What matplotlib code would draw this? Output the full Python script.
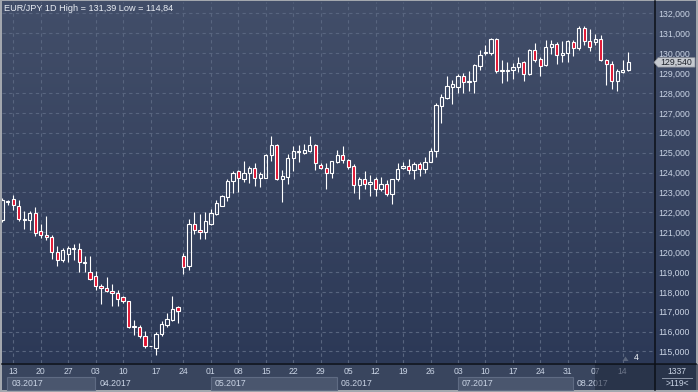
import numpy as np
import pandas as pd
import matplotlib.pyplot as plt
from matplotlib.colors import LinearSegmentedColormap
from matplotlib.lines import Line2D
from matplotlib.patches import Rectangle, Polygon
import matplotlib.transforms as mtransforms

plt.rcParams["font.family"] = ["Liberation Sans", "DejaVu Sans"]

# sessions on screen: weekdays plus the Sunday session before Easter Monday
dates = pd.bdate_range("2017-03-09", "2017-08-15").union(pd.DatetimeIndex(["2017-04-16"]))

opens = [121.63, 122.50, 122.69, 122.34, 121.61, 121.63, 121.97, 121.06, 120.86, 120.76,
         120.01, 119.60, 119.91, 120.16, 120.17, 119.45, 118.98, 118.80, 118.30, 118.20,
         118.06, 117.96, 117.73, 117.54, 116.22, 116.25, 115.77, 115.25, 115.15, 115.89,
         116.34, 116.59, 117.23, 119.78, 119.28, 121.40, 121.10, 121.00, 121.40, 121.90,
         122.34, 122.76, 123.58, 124.06, 123.69, 123.96, 124.21, 123.71, 123.74, 124.88,
         125.38, 123.66, 123.79, 124.71, 125.01, 125.00, 125.10, 125.38, 124.37, 124.22,
         123.97, 124.54, 124.87, 124.61, 124.34, 123.37, 123.67, 123.42, 123.67, 123.17,
         123.42, 122.91, 123.67, 124.24, 124.34, 124.14, 124.42, 124.17, 124.54, 125.08,
         127.37, 127.76, 128.32, 128.29, 128.86, 128.54, 128.58, 129.35, 129.99, 129.99,
         130.70, 129.13, 129.09, 129.15, 129.30, 129.55, 128.98, 130.16, 129.72, 129.43,
         130.33, 130.49, 129.90, 129.99, 130.58, 130.27, 131.29, 130.61, 130.58, 130.70,
         129.65, 129.47, 128.59, 129.06, 129.15]
highs = [122.72, 122.62, 122.89, 122.62, 122.05, 122.05, 122.25, 121.41, 121.83, 120.84,
         120.32, 120.22, 120.32, 120.41, 120.44, 119.82, 119.82, 119.07, 118.37, 118.77,
         118.40, 118.10, 117.80, 117.56, 116.56, 116.32, 116.02, 115.25, 116.00, 116.52,
         116.96, 117.81, 117.31, 119.96, 121.67, 122.00, 121.92, 122.00, 122.15, 122.62,
         122.87, 123.68, 124.08, 124.13, 124.58, 124.34, 124.48, 124.03, 124.91, 125.83,
         125.46, 124.13, 124.91, 125.33, 125.38, 125.43, 125.83, 125.46, 124.47, 124.47,
         124.59, 125.14, 125.34, 124.67, 124.44, 123.80, 124.09, 123.87, 123.80, 123.80,
         123.60, 123.70, 124.47, 124.54, 124.69, 124.54, 124.54, 124.76, 125.21, 127.52,
         127.96, 128.86, 128.63, 128.96, 129.03, 129.11, 129.45, 130.16, 130.44, 130.78,
         130.78, 129.68, 129.57, 129.52, 129.79, 129.60, 130.19, 130.53, 129.82, 130.66,
         130.66, 130.56, 130.61, 130.66, 130.66, 131.39, 131.35, 131.20, 130.95, 130.90,
         129.72, 129.60, 129.21, 129.68, 130.07]
lows = [121.50, 122.39, 122.12, 121.58, 121.15, 121.11, 120.79, 120.69, 120.61, 119.65,
        119.29, 119.49, 119.49, 119.62, 118.98, 119.02, 118.57, 118.10, 117.39, 117.98,
        117.31, 117.28, 117.43, 116.17, 115.85, 115.68, 115.18, 115.25, 114.84, 115.77,
        116.22, 116.51, 116.42, 118.89, 119.08, 120.92, 120.65, 120.68, 121.37, 121.87,
        122.32, 122.57, 122.96, 123.02, 123.54, 123.49, 123.34, 123.29, 123.71, 124.60,
        123.64, 122.54, 123.41, 124.09, 124.55, 124.91, 125.05, 124.13, 124.17, 123.17,
        123.75, 124.47, 124.47, 124.20, 122.96, 122.66, 123.17, 122.83, 122.80, 123.05,
        122.83, 122.41, 123.55, 124.17, 123.94, 123.67, 123.85, 124.00, 124.51, 124.77,
        126.48, 127.71, 127.44, 128.02, 128.02, 128.12, 128.00, 129.18, 129.89, 129.89,
        129.01, 128.50, 128.59, 128.71, 129.06, 128.59, 128.93, 129.55, 128.88, 129.38,
        129.94, 129.47, 129.55, 129.55, 129.85, 130.16, 130.44, 130.11, 130.44, 129.63,
        128.42, 128.22, 128.08, 129.01, 129.09]
closes = [122.64, 122.55, 122.35, 121.66, 121.68, 121.97, 120.96, 120.86, 120.78, 120.01,
          119.60, 120.11, 120.22, 120.22, 119.49, 119.50, 118.63, 118.30, 118.20, 118.03,
          117.96, 117.63, 117.53, 116.22, 116.27, 115.77, 115.28, 115.25, 115.89, 116.36,
          116.62, 117.16, 117.06, 119.26, 121.40, 121.10, 121.00, 121.55, 121.95, 122.45,
          122.82, 123.58, 124.00, 123.71, 123.98, 124.21, 123.71, 123.93, 124.88, 125.38,
          123.66, 123.83, 124.71, 125.06, 125.06, 125.11, 125.38, 124.46, 124.22, 123.97,
          124.56, 124.87, 124.61, 124.30, 123.37, 123.67, 123.42, 123.52, 123.17, 123.42,
          122.91, 123.67, 124.17, 124.34, 124.14, 124.44, 124.17, 124.54, 125.08, 127.40,
          127.79, 128.36, 128.46, 128.86, 128.54, 128.61, 129.40, 129.89, 130.04, 130.70,
          129.13, 129.16, 129.15, 129.31, 129.52, 128.98, 130.16, 129.68, 129.38, 130.33,
          130.49, 129.90, 130.02, 130.60, 130.27, 131.29, 130.61, 130.33, 130.70, 129.65,
          129.47, 128.62, 129.13, 129.18, 129.54]

title = "EUR/JPY 1D High = 131,39 Low = 114,84"
price_ticks = list(range(115, 133))
bars_total = "1337"
bars_shown = ">119<"
signal_count = "4"

W, H = 698, 392
RED = "#e0102f"
GRID = "#58657f"
TXT = "#c9d3e4"


def fx(px):
    return px / W


def fy(py):
    return 1 - py / H


def fmt_price(v):
    return f"{v:.3f}".replace(".", ",")


fig = plt.figure(figsize=(W / 100, H / 100), dpi=100, facecolor="#a3a7ae")

# gradient background behind chart + price scale
bg = fig.add_axes([fx(2), fy(363), (696 - 2) / W, (363 - 1) / H])
cmap = LinearSegmentedColormap.from_list("bg", ["#2c3957", "#424e69"])
bg.imshow(np.linspace(0, 1, 256).reshape(-1, 1), cmap=cmap, aspect="auto",
          extent=[0, 1, 0, 1], origin="lower")
bg.set_axis_off()

# time-axis panel
fig.add_artist(Rectangle((fx(2), fy(390)), (696 - 2) / W, (390 - 363) / H,
                         transform=fig.transFigure, facecolor="#39455e",
                         edgecolor="none", zorder=0.5))

ax = fig.add_axes([fx(2), fy(363), (655 - 2) / W, (363 - 2) / H])
ax.set_zorder(1)
ax.patch.set_alpha(0)
for s in ax.spines.values():
    s.set_visible(False)

x = np.arange(len(dates))
o, h, l, c = map(np.array, (opens, highs, lows, closes))
top = np.maximum(o, c)
bot = np.minimum(o, c)

ax.set_xlim(-0.055, 118.89)
ax.set_ylim(114.42, 132.578)

# grid: price levels and week starts
week_key = (dates + pd.Timedelta(days=1)).isocalendar().week.to_numpy()
week_starts = x[1:][week_key[1:] != week_key[:-1]]
for p in price_ticks:
    ax.axhline(p, color=GRID, lw=0.8, ls=(0, (3, 3)), zorder=1)
for xv in week_starts:
    ax.axvline(xv, color=GRID, lw=0.8, ls=(0, (3, 3)), zorder=1)

# candles
ax.vlines(x, top, h, color="white", lw=0.8, zorder=3)
ax.vlines(x, l, bot, color="white", lw=0.8, zorder=3)
ax.bar(x, top - bot, bottom=bot, width=0.6,
       color=np.where(c >= o, "none", RED), edgecolor="white", linewidth=0.8, zorder=4)

# price scale
ax.yaxis.tick_right()
ax.set_yticks(price_ticks)
ax.set_yticklabels([fmt_price(p) for p in price_ticks])
ax.tick_params(axis="y", length=0, pad=2.4, labelsize=6.3, labelcolor=TXT)

# day labels on Mondays
mondays = x[dates.dayofweek == 0]
ax.set_xticks(mondays)
ax.set_xticklabels(dates[mondays].strftime("%d"))
ax.tick_params(axis="x", length=0, pad=2.6, labelsize=6.2, labelcolor=TXT)

# month strip
trans = mtransforms.blended_transform_factory(ax.transData, fig.transFigure)
month = dates.month.to_numpy()
m_starts = x[np.r_[True, month[1:] != month[:-1]]]
m_left = np.maximum(m_starts - 0.05, 0.9)
m_right = np.r_[m_left[1:], ax.get_xlim()[1]]
for k, (a, b) in enumerate(zip(m_left, m_right)):
    if k % 2 == 0:
        ax.add_patch(Rectangle((a, fy(390)), b - a, fy(377.3) - fy(390), transform=trans,
                               facecolor="#4a566e", edgecolor="#5f6b83", lw=0.8,
                               clip_on=False, zorder=2))
    ax.text(a + 0.75, fy(383), dates[m_starts[k]].strftime("%m.%Y"), transform=trans,
            ha="left", va="center", fontsize=6.3, color=TXT, clip_on=False, zorder=3)

# navigator shade over the latest weeks
ax.add_patch(Rectangle((week_starts[-2] - 0.05, fy(390)), 20, fy(363.5) - fy(390),
                       transform=trans, facecolor="#1d263b", alpha=0.55,
                       edgecolor="none", clip_on=False, zorder=6))

fig.text(fx(4), fy(8.5), title, ha="left", va="center", fontsize=6.6, color="#e9edf4")

# separators
fig.add_artist(Line2D([fx(655), fx(655)], [fy(1), fy(390)], color="#0c1018", lw=1.1, zorder=5))
fig.add_artist(Line2D([fx(2), fx(696)], [fy(363.5), fy(363.5)], color="#0c1018", lw=1.1, zorder=5))

# last price tag
py_last = 13.5 + (132 - c[-1]) * 19.88
tag = [(654, py_last), (658, py_last - 4.7), (695, py_last - 4.7),
       (695, py_last + 4.7), (658, py_last + 4.7)]
fig.add_artist(Polygon([(fx(a), fy(b)) for a, b in tag], closed=True,
                       transform=fig.transFigure, facecolor="#c6cad0",
                       edgecolor="#8c9099", lw=0.5, zorder=6))
fig.text(fx(676), fy(py_last), fmt_price(c[-1]), ha="center", va="center",
         fontsize=6.3, color="#1d222b", zorder=7)

# corner counters
fig.text(fx(677), fy(371), bars_total, ha="center", va="center", fontsize=6.2, color=TXT, zorder=6)
fig.text(fx(677), fy(383.5), bars_shown, ha="center", va="center", fontsize=6.2, color=TXT, zorder=6)
fig.add_artist(Line2D([fx(662), fx(692)], [fy(377.5), fy(377.5)], color="#8d97a8", lw=0.7, zorder=6))

# signal marker
fig.add_artist(Polygon([(fx(622.5), fy(361)), (fx(628.5), fy(361)), (fx(625.5), fy(356.5))],
                       closed=True, transform=fig.transFigure, facecolor="#5a657b",
                       edgecolor="none", zorder=6))
fig.text(fx(636), fy(358), signal_count, ha="center", va="center", fontsize=6.3,
         color="#eef1f6", zorder=6)

fig.savefig("out.png", dpi=100, facecolor=fig.get_facecolor())
